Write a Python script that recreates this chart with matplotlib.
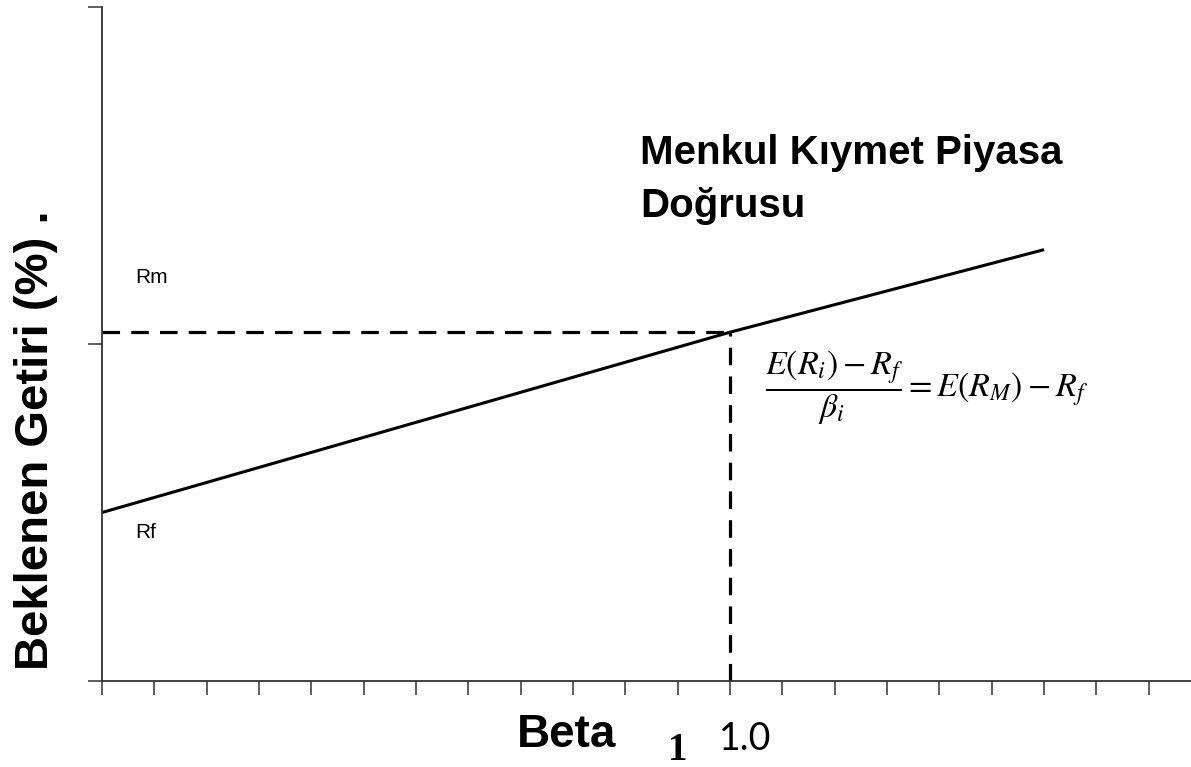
import matplotlib
matplotlib.use("Agg")
import matplotlib.pyplot as plt

plt.rcParams['font.family'] = ['Liberation Sans', 'DejaVu Sans']
plt.rcParams['mathtext.fontset'] = 'stix'

# Menkul Kıymet Piyasa Doğrusu (SML) verileri
beta = [0.0, 1.0, 1.5]
getiri = [0.50, 1.035, 1.28]
beta_m = 1.0
rm = 1.035
x_ticks = [k / 12 for k in range(21)]
y_ticks = [0, 1, 2]

fig = plt.figure(figsize=(11.91, 7.67), dpi=100)
ax = fig.add_axes([102 / 1191, 86 / 767, 1089 / 1191, 674 / 767])

ax.plot(beta, getiri, color='black', lw=2.2, solid_capstyle='butt')
ax.plot([0, beta_m], [rm, rm], color='black', lw=2.3, dashes=(5.5, 3.5))
ax.plot([beta_m, beta_m], [0, rm], color='black', lw=2.3, dashes=(5.5, 3.5))

ax.set_xlim(0, 1.734)
ax.set_ylim(0, 2)
ax.set_xticks(x_ticks)
ax.set_yticks(y_ticks)
ax.set_xticklabels([])
ax.set_yticklabels([])
ax.tick_params(axis='both', direction='out', length=10, width=1.1, color='#333333')
for s in ['top', 'right']:
    ax.spines[s].set_visible(False)
for s in ['left', 'bottom']:
    ax.spines[s].set_color('#333333')
    ax.spines[s].set_linewidth(1.3)

ax.text(0.053, 1.196, 'Rm', fontsize=15, va='center', ha='left')
ax.text(0.053, 0.442, 'Rf', fontsize=15, va='center', ha='left')
# son satırın taban çizgisi
ax.text(0.857, 1.378, 'Menkul Kıymet Piyasa\nDoğrusu', fontsize=29, fontweight='bold',
        va='baseline', ha='left', linespacing=1.5)
ax.text(1.056, 0.869, r'$\dfrac{E(R_i)-R_f}{\beta_i}=E(R_M)-R_f$', fontsize=24.5,
        va='center', ha='left')

fig.text(517 / 1191, 20 / 767, 'Beta', fontsize=33, fontweight='bold', ha='left', va='baseline')
fig.text(668 / 1191, 7 / 767, '1', fontsize=28, fontweight='bold', family='Liberation Serif',
         ha='left', va='baseline')
fig.text(719 / 1191, 17 / 767, '1.0', fontsize=27, family='Lato', ha='left', va='baseline')
fig.text(36 / 1191, 1 - 440 / 767, 'Beklenen Getiri (%) .', fontsize=34, fontweight='bold',
         rotation=90, ha='center', va='center')

fig.savefig('out.png', dpi=100)
